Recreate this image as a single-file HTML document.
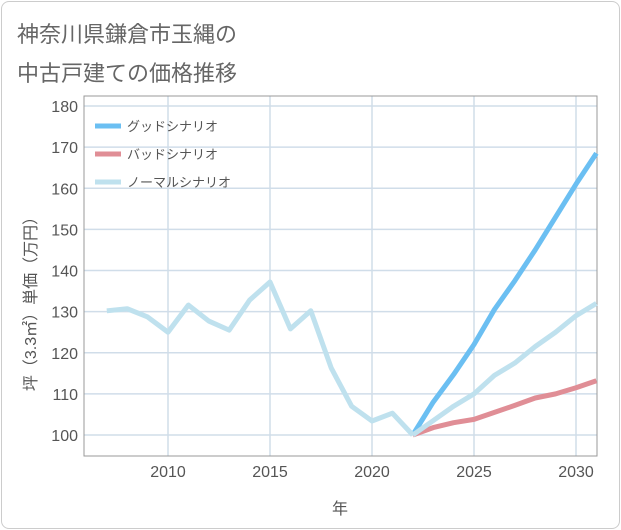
<!DOCTYPE html>
<html><head><meta charset="utf-8"><style>
body{margin:0;background:#fff;}
.card{position:absolute;left:1px;top:1px;width:617px;height:526px;border:1px solid #ccc;border-radius:8px;background:#fff;}
.t{position:absolute;left:17px;font:22px "Liberation Sans","Noto Sans CJK JP",sans-serif;color:#666;}
svg{position:absolute;left:0;top:0;}
text{font-family:"Liberation Sans","Noto Sans CJK JP",sans-serif;}
</style></head><body>
<div class="card"></div>
<div class="t" style="top:17px">神奈川県鎌倉市玉縄の</div>
<div class="t" style="top:56px">中古戸建ての価格推移</div>
<svg id="c" width="621" height="530"></svg>
<script>
const years=[2007,2008,2009,2010,2011,2012,2013,2014,2015,2016,2017,2018,2019,2020,2021,2022];
const histVals=[130.2,130.7,128.7,125,131.6,127.7,125.5,132.8,137.2,125.8,130.2,116.3,107,103.4,105.3,100];
const fYears=[2022,2023,2024,2025,2026,2027,2028,2029,2030,2031];
const goodVals=[100,108,114.7,122,130.5,137.5,145,153,161,168.5];
const normalVals=[100,103.5,107,110,114.5,117.5,121.5,125,129,132];
const badVals=[100,101.8,103,103.8,105.5,107.2,109,110,111.5,113.2];
const yTicks=[100,110,120,130,140,150,160,170,180];
const xTicks=[2010,2015,2020,2025,2030];
const L=84,R=597,T=96,B=456;
const x=v=>168+(v-2010)*20.4;
const y=v=>435-(v-100)*4.1125;
const s=document.getElementById('c');const NS='http://www.w3.org/2000/svg';
function mk(t,a,p){const e=document.createElementNS(NS,t);for(const k in a)e.setAttribute(k,a[k]);(p||s).appendChild(e);return e;}
let e;
yTicks.forEach(v=>{e=mk('line',{x1:L,x2:R,y1:y(v),y2:y(v),stroke:'#d0dde9','stroke-width':1.5});


e=mk('text',{x:78,y:y(v)+6,'text-anchor':'end','font-size':16,fill:'#555'});e.textContent=v;

});
xTicks.forEach(v=>{e=mk('line',{x1:x(v),x2:x(v),y1:T,y2:B,stroke:'#d0dde9','stroke-width':1.5});


e=mk('text',{x:x(v),y:477,'text-anchor':'middle','font-size':16,fill:'#555'});e.textContent=v;

});
e=mk('rect',{x:L,y:T,width:R-L,height:B-T,fill:'none',stroke:'#999','stroke-width':1});


function line(xs,vs,c,n){const p=mk('polyline',{points:xs.map((d,i)=>x(d)+','+y(vs[i])).join(' '),fill:'none',stroke:c,'stroke-width':5,'stroke-linejoin':'round'});

}
line(fYears,badVals,'#e08e96','bad-scenario-line');
line(fYears,goodVals,'#6bbff2','good-scenario-line');
line(fYears,normalVals,'#bfe1ee','normal-scenario-line');
line(years,histVals,'#bfe1ee','history-line');
e=mk('text',{x:340,y:514,'text-anchor':'middle','font-size':16,fill:'#555'});e.textContent='年';


e=mk('text',{x:0,y:0,'text-anchor':'middle','font-size':16,fill:'#555',transform:'translate(36,300) rotate(-90)'});e.textContent='坪（3.3㎡）単価（万円）';


const leg=[['グッドシナリオ','#6bbff2'],['バッドシナリオ','#e08e96'],['ノーマルシナリオ','#bfe1ee']];
leg.forEach((l,i)=>{const g=mk('g',{});


mk('line',{x1:95,x2:121,y1:126+i*28,y2:126+i*28,stroke:l[1],'stroke-width':5},g);
const t=mk('text',{x:127,y:131+i*28,'font-size':13,fill:'#555'},g);t.textContent=l[0];});
</script>
</body></html>
